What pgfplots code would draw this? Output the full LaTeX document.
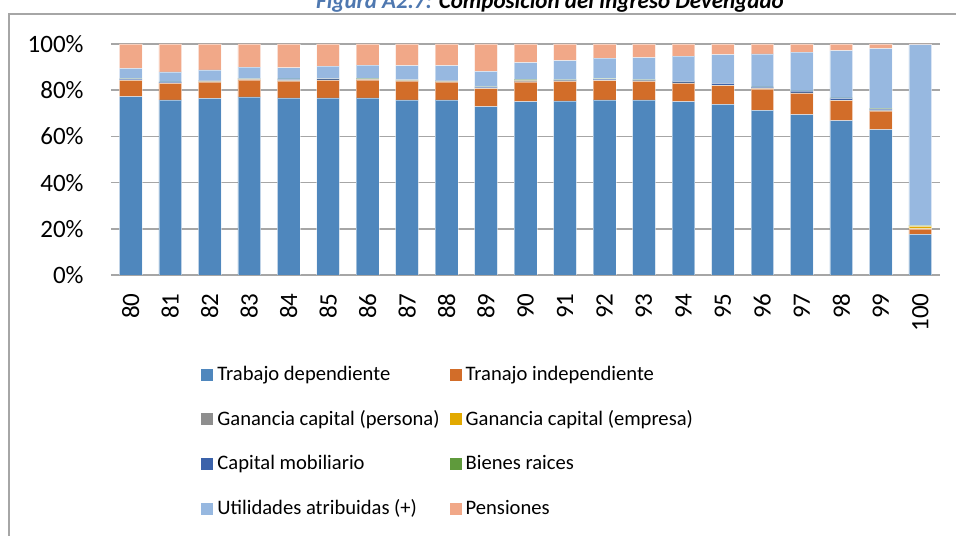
\documentclass[border=0pt]{standalone}
\usepackage{pgfplots}
\pgfplotsset{compat=1.18}
\usepackage{pgfplotstable}
\usepackage{fontspec}
\setmainfont{Carlito}
\definecolor{c1}{HTML}{4F87BD}
\definecolor{c2}{HTML}{D26D29}
\definecolor{c3}{HTML}{8E8E8E}
\definecolor{c4}{HTML}{E2A900}
\definecolor{c5}{HTML}{3B62AA}
\definecolor{c6}{HTML}{5F9A3C}
\definecolor{c7}{HTML}{97B8E0}
\definecolor{c8}{HTML}{F1A888}
\definecolor{gridc}{HTML}{A6A6A6}
\definecolor{titleblue}{HTML}{4F78B0}
\pgfplotstableread{
x dep ind gp ge mob bie util pen
0 77.2 7.0 0.1 0.1 0.5 0.1 4.4 10.6
1 75.8 7.1 0.1 0.1 0.4 0.1 4.3 12.1
2 76.5 7.0 0.1 0.1 0.5 0.1 4.5 11.2
3 77.1 7.4 0.1 0.1 0.3 0.2 4.8 10.0
4 76.7 7.2 0.4 0.1 0.3 0.2 4.8 10.3
5 76.7 7.6 0.1 0.1 0.5 0.1 5.3 9.6
6 76.7 7.8 0.1 0.1 0.2 0.2 5.8 9.1
7 75.8 8.1 0.1 0.1 0.5 0.1 5.9 9.4
8 75.8 7.7 0.1 0.1 0.5 0.1 6.3 9.4
9 72.9 7.8 0.1 0.1 0.5 0.1 6.6 11.9
10 75.1 8.5 0.4 0.1 0.4 0.2 7.2 8.1
11 75.4 8.4 0.1 0.1 0.5 0.1 8.2 7.2
12 75.8 8.3 0.1 0.1 0.5 0.2 8.9 6.1
13 75.8 8.0 0.1 0.1 0.5 0.1 9.5 5.9
14 75.1 7.9 0.1 0.1 0.6 0.1 10.9 5.2
15 73.9 8.1 0.1 0.1 0.7 0.1 12.4 4.6
16 71.3 9.3 0.1 0.1 0.5 0.1 14.3 4.3
17 69.4 9.2 0.1 0.1 0.8 0.1 16.8 3.5
18 66.8 8.7 0.1 0.1 0.8 0.2 20.4 2.9
19 62.9 8.0 0.1 0.1 0.8 0.2 25.9 2.0
20 17.6 2.3 0.1 1.0 0.3 0.3 78.1 0.3
}\data
\begin{document}
\begin{tikzpicture}
\useasboundingbox (0,0) rectangle (478pt,267.5pt);
\draw[gridc, line width=0.75pt] (4.5pt,-5pt) -- (4.5pt,260.5pt) -- (485pt,260.5pt);
\node[anchor=base, inner sep=0pt, font=\fontsize{11.5}{14}\selectfont\bfseries\itshape] at (275pt,263.2pt) {\textcolor{titleblue}{Figura A2.7:} Composición del Ingreso Devengado};
\begin{axis}[
  at={(55.5pt,130pt)}, anchor=south west,
  width=414.5pt, height=115.5pt, scale only axis,
  ybar stacked, bar width=0.575,
  xmin=-0.5, xmax=20.5, ymin=0, ymax=100,
  xtick={0,...,20},
  xticklabels={80,81,82,83,84,85,86,87,88,89,90,91,92,93,94,95,96,97,98,99,100},
  ytick={0,20,40,60,80,100},
  yticklabels={0\%,20\%,40\%,60\%,80\%,100\%},
  axis line style={draw=none},
  major tick length=0pt,
  ymajorgrids, grid style={gridc, line width=0.75pt},
  tick label style={font=\fontsize{12.5}{15}\selectfont},
  yticklabel style={anchor=east, inner sep=0pt, xshift=-13.5pt},
  xticklabel style={rotate=90, anchor=east, inner ysep=0pt, inner xsep=9pt},
  every axis plot/.append style={draw=white, draw opacity=0.45, line width=0.3pt},
  legend columns=2,
  legend cell align=left,
  legend style={draw=none, fill=none, at={(rel axis cs:0.1086,-0.723)}, anchor=west,
    inner sep=0pt, font=\fontsize{10.3}{12}\selectfont,
    /tikz/every even column/.append style={column sep=3pt},
    row sep=13.5pt,
    nodes={inner xsep=2pt, inner ysep=0pt}},
  legend image code/.code={\path[#1, draw=none] (0pt,-3pt) rectangle (6pt,3pt);},
]
\addplot[fill=c1] table[x=x, y=dep] {\data};
\addplot[fill=c2] table[x=x, y=ind] {\data};
\addplot[fill=c3] table[x=x, y=gp] {\data};
\addplot[fill=c4] table[x=x, y=ge] {\data};
\addplot[fill=c5] table[x=x, y=mob] {\data};
\addplot[fill=c6] table[x=x, y=bie] {\data};
\addplot[fill=c7] table[x=x, y=util] {\data};
\addplot[fill=c8] table[x=x, y=pen] {\data};
\legend{Trabajo dependiente, Tranajo independiente, Ganancia capital (persona), Ganancia capital (empresa), Capital mobiliario, Bienes raices, Utilidades atribuidas (+), Pensiones}
\end{axis}
\end{tikzpicture}
\end{document}
